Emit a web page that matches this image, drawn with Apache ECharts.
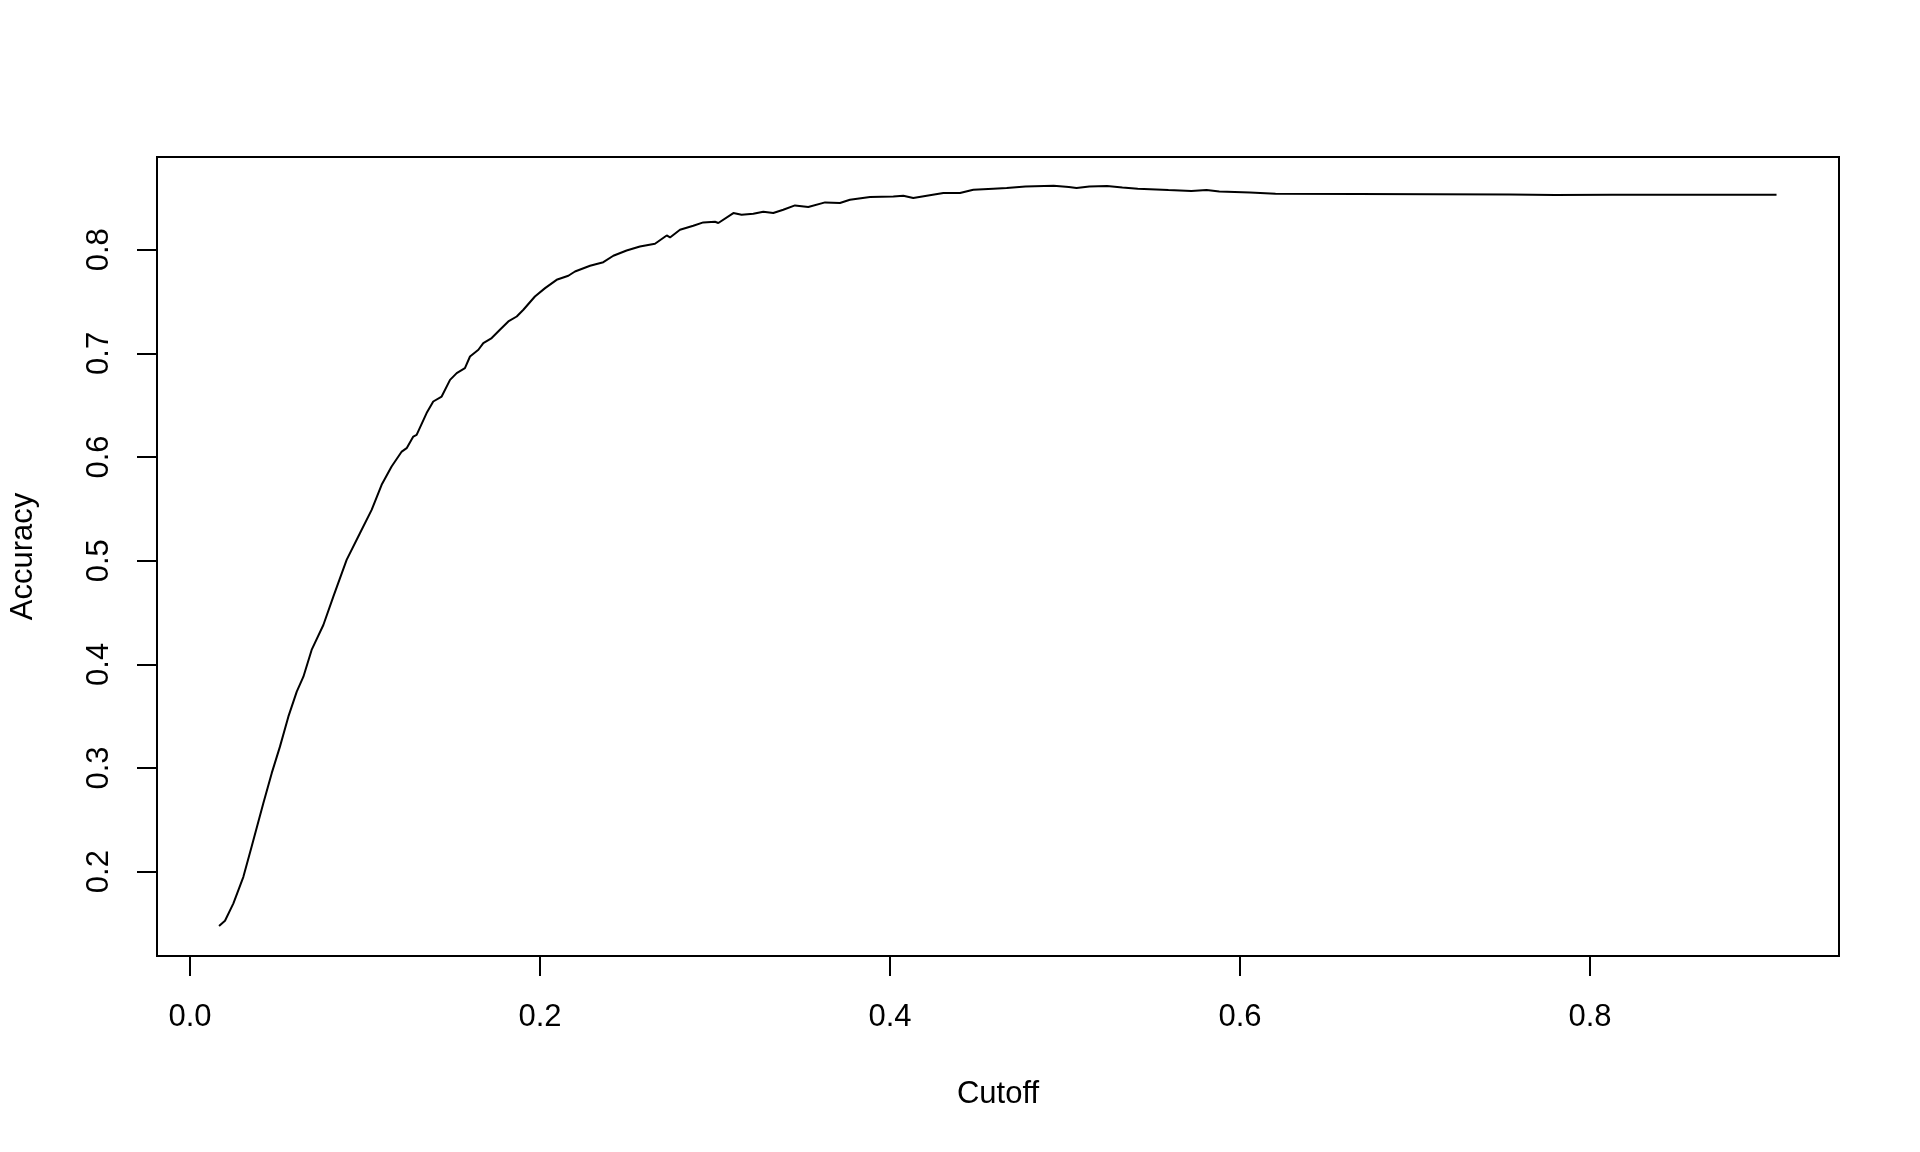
<!DOCTYPE html>
<html>
<head>
<meta charset="utf-8">
<script src="https://cdn.jsdelivr.net/npm/echarts@6/dist/echarts.min.js"></script>
<style>
html,body{margin:0;padding:0;background:#fff;}
#chart{width:1920px;height:1152px;}
</style>
</head>
<body>
<div id="chart"></div>
<script>
// Data
const cutoff = [
  0.0166,0.0200,0.0248,0.0305,0.0352,0.0419,0.0467,0.0514,0.0562,0.0610,
  0.0648,0.0695,0.0762,0.0819,0.0895,0.0971,0.1038,0.1095,0.1152,0.1210,
  0.1238,0.1276,0.1295,0.1352,0.1390,0.1438,0.1486,0.1524,0.1571,0.1600,
  0.1648,0.1676,0.1724,0.1771,0.1819,0.1867,0.1905,0.1971,0.2029,0.2095,
  0.2162,0.2200,0.2286,0.2362,0.2419,0.2495,0.2571,0.2657,0.2724,0.2743,
  0.2800,0.2876,0.2933,0.3000,0.3019,0.3105,0.3152,0.3219,0.3276,0.3333,
  0.3390,0.3457,0.3533,0.3629,0.3714,0.3771,0.3886,0.4019,0.4076,0.4133,
  0.4210,0.4305,0.4400,0.4476,0.4590,0.4667,0.4774,0.4935,0.5022,0.5066,
  0.5139,0.5240,0.5328,0.5416,0.5591,0.5722,0.5809,0.5882,0.6057,0.6203,
  0.6669,0.7543,0.7800,0.8126,0.9066
];
const accuracy = [
  0.1475,0.1526,0.1694,0.1950,0.2240,0.2660,0.2950,0.3206,0.3495,0.3737,
  0.3881,0.4139,0.4380,0.4653,0.5008,0.5265,0.5490,0.5732,0.5909,0.6053,
  0.6086,0.6198,0.6214,0.6424,0.6536,0.6584,0.6745,0.6810,0.6858,0.6970,
  0.7035,0.7100,0.7148,0.7228,0.7308,0.7356,0.7421,0.7549,0.7630,0.7710,
  0.7749,0.7790,0.7846,0.7880,0.7942,0.7993,0.8032,0.8058,0.8138,0.8119,
  0.8193,0.8232,0.8264,0.8270,0.8258,0.8354,0.8338,0.8347,0.8367,0.8354,
  0.8386,0.8428,0.8412,0.8457,0.8451,0.8483,0.8509,0.8515,0.8521,0.8499,
  0.8521,0.8547,0.8547,0.8579,0.8589,0.8595,0.8611,0.8618,0.8605,0.8595,
  0.8611,0.8615,0.8601,0.8589,0.8576,0.8567,0.8576,0.8563,0.8553,0.8541,
  0.8538,0.8534,0.8528,0.8531,0.8531
];
const xTicks = [0.0, 0.2, 0.4, 0.6, 0.8];
const yTicks = [0.2, 0.3, 0.4, 0.5, 0.6, 0.7, 0.8];
const xTitle = 'Cutoff';
const yTitle = 'Accuracy';

const points = cutoff.map((c, i) => [c, accuracy[i]]);
const font = '"Liberation Sans", Arial, Helvetica, sans-serif';

const chart = echarts.init(document.getElementById('chart'), null, {renderer: 'canvas'});
chart.setOption({
  animation: false,
  backgroundColor: '#ffffff',
  grid: {
    left: 157, top: 157, width: 1682, height: 799,
    show: true, borderColor: '#000', borderWidth: 2, backgroundColor: 'transparent',
    containLabel: false
  },
  xAxis: {
    type: 'value',
    min: -0.01886, max: 0.9423,
    name: xTitle, nameLocation: 'middle', nameGap: 123,
    nameTextStyle: {fontFamily: font, fontSize: 31, color: '#000'},
    axisLine: {show: false, onZero: false},
    splitLine: {show: false},
    axisTick: {show: true, length: 20, lineStyle: {color: '#000', width: 2}, customValues: xTicks},
    axisLabel: {show: true, margin: 46, fontFamily: font, fontSize: 31, color: '#000',
      customValues: xTicks, formatter: v => v.toFixed(1)}
  },
  yAxis: {
    type: 'value',
    min: 0.1186, max: 0.8895,
    name: yTitle, nameLocation: 'middle', nameGap: 118, nameRotate: 90,
    nameTextStyle: {fontFamily: font, fontSize: 31, color: '#000'},
    axisLine: {show: false, onZero: false},
    splitLine: {show: false},
    axisTick: {show: true, length: 20, lineStyle: {color: '#000', width: 2}, customValues: yTicks},
    axisLabel: {show: true, margin: 42, rotate: 90, fontFamily: font, fontSize: 31, color: '#000',
      customValues: yTicks, formatter: v => v.toFixed(1)}
  },
  series: [{
    type: 'line',
    data: points,
    showSymbol: false,
    symbol: 'none',
    lineStyle: {color: '#000', width: 2},
    clip: true
  }]
});
</script>
</body>
</html>
